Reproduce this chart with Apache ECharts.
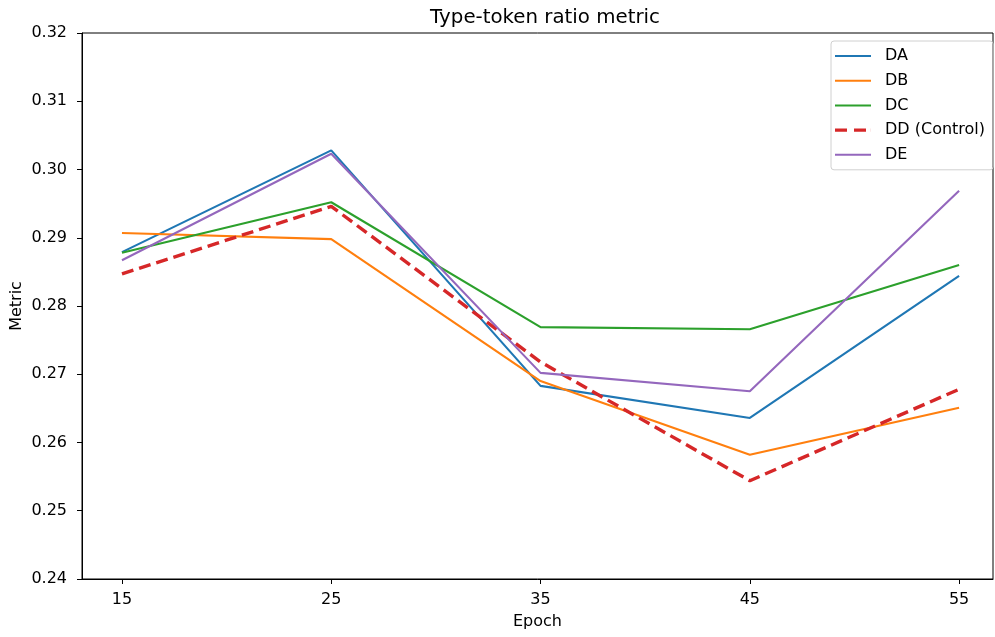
<!DOCTYPE html>
<html>
<head>
<meta charset="utf-8">
<script src="https://cdn.jsdelivr.net/npm/echarts@6/dist/echarts.min.js"></script>
<style>
  html, body { margin: 0; padding: 0; background: #fff; }
  #main { width: 995px; height: 637px; }
</style>
</head>
<body>
<div id="main"></div>
<script>
var myChart = echarts.init(document.getElementById('main'));

// epochs on the x axis
var epochs = [15, 25, 35, 45, 55];
var yTicks = [0.24, 0.25, 0.26, 0.27, 0.28, 0.29, 0.30, 0.31, 0.32];

// metric values
var dA = [0.2879, 0.3028, 0.2683, 0.2636, 0.2844];
var dB = [0.2907, 0.2898, 0.2690, 0.2582, 0.2651];
var dC = [0.2878, 0.2952, 0.2769, 0.2766, 0.2860];
var dD = [0.2847, 0.2946, 0.2718, 0.2544, 0.2678];
var dE = [0.2867, 0.3023, 0.2702, 0.2675, 0.2969];

var names = ['DA', 'DB', 'DC', 'DD (Control)', 'DE'];
var colors = ['#1f77b4', '#ff7f0e', '#2ca02c', '#d62728', '#9467bd'];

// legend handles: a plain line, and two dashes for the control run
var solidIcon = 'path://M0,0 L36,0 L36,2 L0,2 Z';
var dashIcon = 'path://M0,0 L12,0 L12,3.4 L0,3.4 Z M19,0 L31,0 L31,3.4 L19,3.4 Z M35.9,0 L36,0 L36,3.4 L35.9,3.4 Z';

function pairs(vals) {
    return epochs.map(function (e, i) { return [e, vals[i]]; });
}

function lineSeries(name, vals, color, dashed) {
    return {
        name: name,
        type: 'line',
        data: pairs(vals),
        symbol: 'none',
        animation: false,
        lineStyle: {
            color: color,
            width: dashed ? 3.4 : 2.1,
            type: dashed ? [12, 6] : 'solid'
        },
        itemStyle: { color: color }
    };
}

var font = 'DejaVu Sans';
var fs = 16;

var option = {
    backgroundColor: '#fff',
    title: {
        text: 'Type-token ratio metric',
        left: 540,
        textAlign: 'center',
        top: 3,
        textStyle: { fontFamily: font, fontSize: 19.8, fontWeight: 'normal', color: '#000' }
    },
    legend: {
        orient: 'vertical',
        left: 831,
        top: 41,
        padding: [7, 8, 7, 4],
        itemGap: 8.7,
        itemWidth: 36,
        itemHeight: 14,
        borderColor: '#d0d0d0',
        borderWidth: 1,
        borderRadius: 3,
        data: names.map(function (n, i) {
            return { name: n, icon: i === 3 ? dashIcon : solidIcon };
        }),
        textStyle: { fontFamily: font, fontSize: fs, color: '#000', padding: [0, 0, 0, 9] }
    },
    grid: {
        left: 82,
        right: 2,
        top: 33,
        bottom: 58,
        outerBoundsMode: 'none',
        show: true,
        borderColor: '#000',
        borderWidth: 1,
        backgroundColor: 'transparent'
    },
    xAxis: {
        type: 'value',
        min: 13.09,
        max: 56.62,
        name: 'Epoch',
        nameLocation: 'middle',
        nameGap: 35,
        nameMoveOverlap: false,
        nameTextStyle: { fontFamily: font, fontSize: fs, color: '#000' },
        axisLine: { show: true, lineStyle: { color: '#000', width: 1 } },
        axisTick: { show: true, length: 5, customValues: epochs, lineStyle: { color: '#000' } },
        axisLabel: { customValues: epochs, fontFamily: font, fontSize: fs, color: '#000', margin: 13 },
        splitLine: { show: false }
    },
    yAxis: {
        type: 'value',
        min: 0.24,
        max: 0.32,
        name: 'Metric',
        nameLocation: 'middle',
        nameGap: 57,
        nameMoveOverlap: false,
        nameTextStyle: { fontFamily: font, fontSize: fs, color: '#000' },
        axisLine: { show: true, lineStyle: { color: '#000', width: 1 } },
        axisTick: { show: true, length: 5, customValues: yTicks, lineStyle: { color: '#000' } },
        axisLabel: {
            customValues: yTicks,
            fontFamily: font, fontSize: fs, color: '#000', margin: 15,
            formatter: function (v) { return v.toFixed(2); }
        },
        splitLine: { show: false }
    },
    series: [
        lineSeries(names[0], dA, colors[0], false),
        lineSeries(names[1], dB, colors[1], false),
        lineSeries(names[2], dC, colors[2], false),
        lineSeries(names[3], dD, colors[3], true),
        lineSeries(names[4], dE, colors[4], false)
    ]
};

myChart.setOption(option);
</script>
</body>
</html>
